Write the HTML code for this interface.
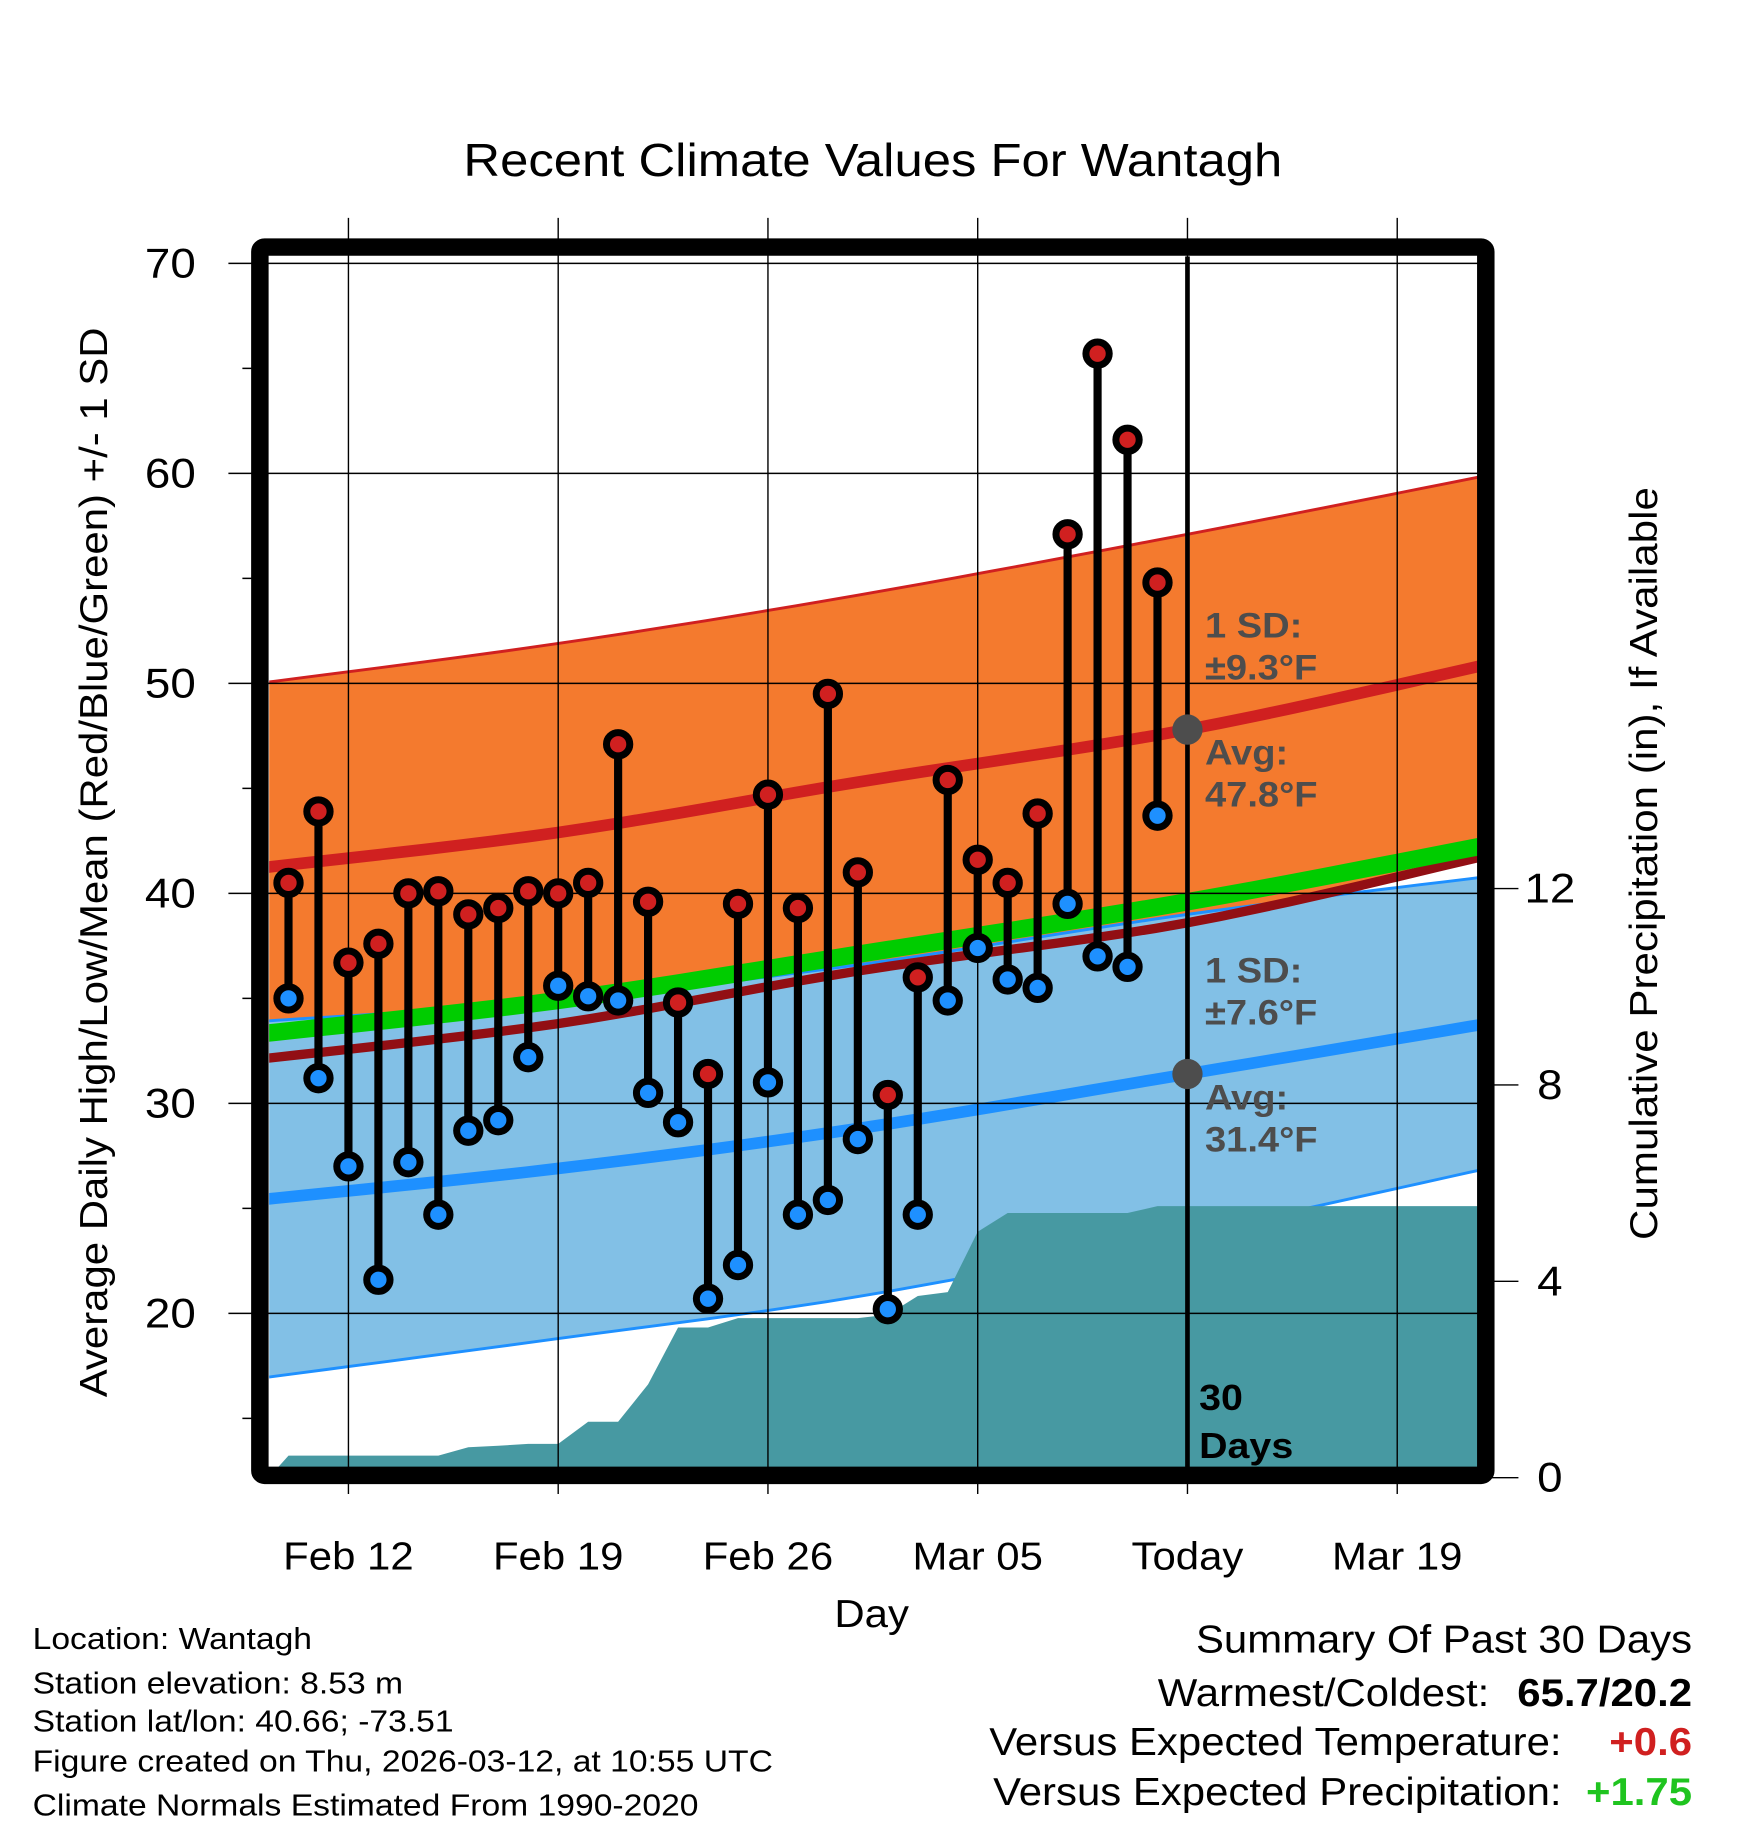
<!DOCTYPE html>
<html><head><meta charset="utf-8"><style>
html,body{margin:0;padding:0;background:#fff;}
svg{display:block;font-family:"Liberation Sans",sans-serif;}
</style></head><body>
<svg id="chart" width="1748" height="1828" viewBox="0 0 1500 1568.6" preserveAspectRatio="none" xmlns="http://www.w3.org/2000/svg">
<defs><clipPath id="plotclip"><rect x="231" y="220" width="1037" height="1039"/></clipPath></defs>
<rect x="0" y="0" width="1500" height="1568.6" fill="#fff"/>
<text class="sx" x="749" y="151" font-size="40" text-anchor="middle">Recent Climate Values For Wantagh</text>
<g id="bands" clip-path="url(#plotclip)"></g>
<g id="grid"></g>
<g id="marks" clip-path="url(#plotclip)"></g>
<g id="axes"></g>
<text transform="translate(92,740) rotate(-90)" font-size="33" text-anchor="middle" textLength="918" lengthAdjust="spacingAndGlyphs">Average Daily High/Low/Mean (Red/Blue/Green) +/- 1 SD</text>
<text transform="translate(1422,741) rotate(-90)" font-size="33" text-anchor="middle" textLength="646" lengthAdjust="spacingAndGlyphs">Cumulative Precipitation (in), If Available</text>
<text class="sx" x="748" y="1396" font-size="33" text-anchor="middle">Day</text>
<g font-size="26.5">
<text class="sx" x="28" y="1415">Location: Wantagh</text>
<text class="sx" x="28" y="1453">Station elevation: 8.53 m</text>
<text class="sx" x="28" y="1486">Station lat/lon: 40.66; -73.51</text>
<text class="sx" x="28" y="1520">Figure created on Thu, 2026-03-12, at 10:55 UTC</text>
<text class="sx" x="28" y="1558">Climate Normals Estimated From 1990-2020</text>
</g>
<g font-size="33">
<text class="sx" x="1452" y="1418" text-anchor="end">Summary Of Past 30 Days</text>
<text class="sx" x="1278" y="1464" text-anchor="end">Warmest/Coldest:</text>
<text class="sx" x="1452" y="1464" text-anchor="end" font-weight="bold">65.7/20.2</text>
<text class="sx" x="1340" y="1506" text-anchor="end">Versus Expected Temperature:</text>
<text class="sx" x="1452" y="1506" text-anchor="end" font-weight="bold" fill="#d02020">+0.6</text>
<text class="sx" x="1340" y="1549" text-anchor="end">Versus Expected Precipitation:</text>
<text class="sx" x="1452" y="1549" text-anchor="end" font-weight="bold" fill="#1fc41f">+1.75</text>
</g>
</svg>
<script>
// day index: Feb 12 = 0
const days = [-2,-1,0,1,2,3,4,5,6,7,8,9,10,11,12,13,14,15,16,17,18,19,20,21,22,23,24,25,26,27];
const highs = [40.5,43.9,36.7,37.6,40.0,40.1,39.0,39.3,40.1,40.0,40.5,47.1,39.6,34.8,31.4,39.5,44.7,39.3,49.5,41.0,30.4,36.0,45.4,41.6,40.5,43.8,57.1,65.7,61.6,54.8];
const lows = [35.0,31.2,27.0,21.6,27.2,24.7,28.7,29.2,32.2,35.6,35.1,34.9,30.5,29.1,20.7,22.3,31.0,24.7,25.4,28.3,20.2,24.7,34.9,37.4,35.9,35.5,39.5,37.0,36.5,43.7];
const precip = [0.45,0.45,0.45,0.45,0.45,0.45,0.62,0.65,0.69,0.69,1.14,1.14,1.90,3.06,3.06,3.25,3.25,3.25,3.25,3.25,3.32,3.70,3.78,5.01,5.39,5.39,5.39,5.39,5.39,5.53];
const normDays = [-3,7,17,28,38];
const highMean = [41.2,42.9,45.3,47.8,50.9];
const highUpper = [50.0,51.9,54.2,57.1,59.9];
const highLower = [32.1,33.8,36.3,38.6,41.8];
const lowMean = [25.4,26.9,28.8,31.4,33.8];
const lowUpper = [33.9,34.9,36.6,39.0,40.8];
const lowLower = [16.9,18.8,20.8,23.8,26.9];
const meanAvg = [33.3,34.9,37.1,39.6,42.3];
const xTickDays = [0,7,14,21,28,35];
const xTickLabels = ["Feb 12","Feb 19","Feb 26","Mar 05","Today","Mar 19"];
const yTicks = [20,30,40,50,60,70];
const yMinor = [15,25,35,45,55,65];
const pTicks = [0,4,8,12];
const todayDay = 28;

const NS="http://www.w3.org/2000/svg";
const x = d => 299 + d*25.714;
const y = v => 226 + (70-v)*18.02;
const py = p => 1268 - p*42.13;
function mk(parent,tag,attrs){const e=document.createElementNS(NS,tag);for(const k in attrs)e.setAttribute(k,attrs[k]);document.getElementById(parent).appendChild(e);return e;}
function smoothPts(arr){
  const P=normDays.map((d,i)=>[x(d),y(arr[i])]);
  const out=[];
  for(let i=0;i<P.length-1;i++){
    const p0=P[Math.max(i-1,0)],p1=P[i],p2=P[i+1],p3=P[Math.min(i+2,P.length-1)];
    for(let t=0;t<1;t+=0.1){
      const t2=t*t,t3=t2*t;
      const f=(a,b,c,d)=>0.5*((2*b)+(-a+c)*t+(2*a-5*b+4*c-d)*t2+(-a+3*b-3*c+d)*t3);
      out.push([f(p0[0],p1[0],p2[0],p3[0]),f(p0[1],p1[1],p2[1],p3[1])]);
    }
  }
  out.push(P[P.length-1]);
  return out;
}
const line = arr => smoothPts(arr).map(p=>p[0]+','+p[1]).join(' ');
const band = (a,b) => smoothPts(a).concat(smoothPts(b).reverse()).map(p=>p[0]+','+p[1]).join(' ');

let e;
e=mk('bands','polygon',{points:band(highUpper,highLower),fill:'#f47a2e'});


e=mk('bands','polyline',{points:line(highUpper),fill:'none',stroke:'#d02020','stroke-width':2.5});


e=mk('bands','polygon',{points:band(lowUpper,lowLower),fill:'#82c0e6'});


e=mk('bands','polyline',{points:line(lowUpper),fill:'none',stroke:'#1e90ff','stroke-width':2.5});


e=mk('bands','polyline',{points:line(lowLower),fill:'none',stroke:'#1e90ff','stroke-width':2.5});


let pts=[x(-2.66)+','+py(0)];
days.forEach((d,i)=>pts.push(x(d)+','+py(precip[i])));
pts.push(x(38)+','+py(precip[precip.length-1]));
pts.push(x(38)+','+py(0));
e=mk('bands','polygon',{points:pts.join(' '),fill:'#4799a2'});


e=mk('bands','polyline',{points:line(highLower),fill:'none',stroke:'#920f14','stroke-width':8});


e=mk('bands','polyline',{points:line(meanAvg),fill:'none',stroke:'#00cc00','stroke-width':15});


e=mk('bands','polyline',{points:line(highMean),fill:'none',stroke:'#d02020','stroke-width':10});


e=mk('bands','polyline',{points:line(lowMean),fill:'none',stroke:'#1e90ff','stroke-width':10});



xTickDays.forEach((d,i)=>{
  e=mk('grid','line',{x1:x(d),x2:x(d),y1:187,y2:1282,stroke:'#000','stroke-width':1.2});
  
  
  e=mk('axes','text',{x:x(d),y:1347,'font-size':33,'text-anchor':'middle',class:'sx'});
  e.textContent=xTickLabels[i];
  
  
});
yTicks.forEach(v=>{
  e=mk('grid','line',{x1:196,x2:1268,y1:y(v),y2:y(v),stroke:'#000','stroke-width':1.2});
  
  
  e=mk('axes','text',{x:168,y:y(v)+12,'font-size':36,'text-anchor':'end',class:'sx'});
  e.textContent=v;
  
  
});
yMinor.forEach(v=>{
  e=mk('grid','line',{x1:208,x2:223,y1:y(v),y2:y(v),stroke:'#000','stroke-width':1.2});
  
  
});
pTicks.forEach(p=>{
  e=mk('axes','line',{x1:1275,x2:1303,y1:py(p),y2:py(p),stroke:'#000','stroke-width':1.2});
  
  
  e=mk('axes','text',{x:1330,y:py(p)+12,'font-size':36,'text-anchor':'middle',class:'sx'});
  e.textContent=p;
  
  
});

e=mk('marks','line',{x1:x(todayDay),x2:x(todayDay),y1:220,y2:1260,stroke:'#000','stroke-width':4});



days.forEach((d,i)=>{
  e=mk('marks','line',{x1:x(d),x2:x(d),y1:y(highs[i]),y2:y(lows[i]),stroke:'#000','stroke-width':7});
  
  
  e=mk('marks','circle',{cx:x(d),cy:y(highs[i]),r:10,fill:'#d02020',stroke:'#000','stroke-width':6});
  
  
  e=mk('marks','circle',{cx:x(d),cy:y(lows[i]),r:10,fill:'#1e90ff',stroke:'#000','stroke-width':6});
  
  
});

e=mk('marks','circle',{cx:x(todayDay),cy:y(highMean[3]),r:13,fill:'#4d4d4d'});


e=mk('marks','circle',{cx:x(todayDay),cy:y(lowMean[3]),r:13,fill:'#4d4d4d'});



const labels=[["1 SD:",547],["±9.3°F",583],["Avg:",656],["47.8°F",692],["1 SD:",843],["±7.6°F",879],["Avg:",952],["31.4°F",988]];
labels.forEach(l=>{
  e=mk('marks','text',{x:1034,y:l[1],'font-size':30,'font-weight':'bold',fill:'#4d4d4d',class:'sx'});
  e.textContent=l[0];
  
  
});
[["30",1210],["Days",1251]].forEach(l=>{
  e=mk('marks','text',{x:1029,y:l[1],'font-size':31,'font-weight':'bold',fill:'#000',class:'sx'});
  e.textContent=l[0];
  
  
});

e=mk('axes','rect',{x:223,y:212,width:1052,height:1054,fill:'none',stroke:'#000','stroke-width':15,rx:4});



// widen text horizontally to match reference font metrics
document.querySelectorAll('text.sx').forEach(t=>{
  const tx=parseFloat(t.getAttribute('x'));
  t.setAttribute('transform','translate('+tx+',0) scale(1.09,1) translate('+(-tx)+',0)');
});
</script>
</body></html>
